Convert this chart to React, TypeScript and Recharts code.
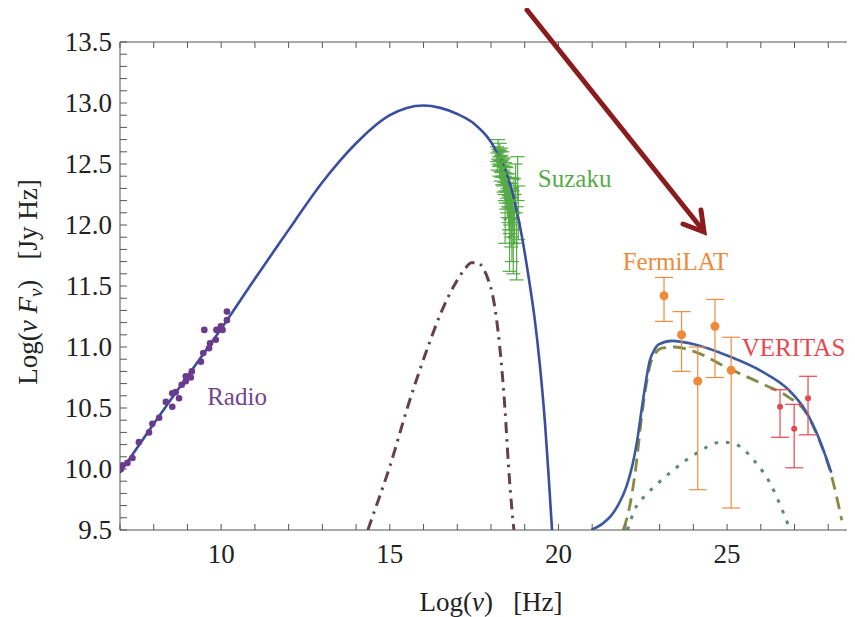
import React from 'react';
import {
  ComposedChart,
  Line,
  Scatter,
  ErrorBar,
  XAxis,
  YAxis,
  CartesianGrid,
  ReferenceDot,
} from 'recharts';

// ---------- axes ----------
const xTicks = [7, 8, 9, 10, 11, 12, 13, 14, 15, 16, 17, 18, 19, 20, 21, 22, 23, 24, 25, 26, 27, 28, 29];
const xLabelTicks = [10, 15, 20, 25];
const yTicks = [
  9.5, 9.6, 9.7, 9.8, 9.9, 10.0, 10.1, 10.2, 10.3, 10.4, 10.5, 10.6, 10.7, 10.8, 10.9,
  11.0, 11.1, 11.2, 11.3, 11.4, 11.5, 11.6, 11.7, 11.8, 11.9, 12.0, 12.1, 12.2, 12.3, 12.4,
  12.5, 12.6, 12.7, 12.8, 12.9, 13.0, 13.1, 13.2, 13.3, 13.4, 13.5,
];
const yLabelTicks = [9.5, 10.0, 10.5, 11.0, 11.5, 12.0, 12.5, 13.0, 13.5];

// ---------- model curves ----------
const totalSync = [
  { x: 7.0, y: 9.97 }, { x: 8.0, y: 10.37 }, { x: 9.0, y: 10.76 }, { x: 10.0, y: 11.15 },
  { x: 11.0, y: 11.56 }, { x: 12.0, y: 11.96 }, { x: 12.5, y: 12.16 }, { x: 13.0, y: 12.35 },
  { x: 13.5, y: 12.52 }, { x: 14.0, y: 12.67 }, { x: 14.5, y: 12.8 }, { x: 15.0, y: 12.9 },
  { x: 15.5, y: 12.96 }, { x: 16.0, y: 12.98 }, { x: 16.5, y: 12.96 }, { x: 17.0, y: 12.91 },
  { x: 17.5, y: 12.83 }, { x: 18.0, y: 12.68 }, { x: 18.3, y: 12.53 }, { x: 18.6, y: 12.3 },
  { x: 18.9, y: 11.93 }, { x: 19.1, y: 11.6 }, { x: 19.3, y: 11.22 }, { x: 19.45, y: 10.85 },
  { x: 19.6, y: 10.38 }, { x: 19.7, y: 9.98 }, { x: 19.81, y: 9.5 },
];
const totalIC = [
  { x: 20.98, y: 9.5 }, { x: 21.3, y: 9.55 }, { x: 21.57, y: 9.62 }, { x: 21.8, y: 9.72 },
  { x: 22.02, y: 9.86 }, { x: 22.2, y: 10.04 }, { x: 22.32, y: 10.21 }, { x: 22.51, y: 10.57 },
  { x: 22.71, y: 10.89 }, { x: 22.85, y: 10.98 }, { x: 22.96, y: 11.02 }, { x: 23.36, y: 11.05 },
  { x: 24.05, y: 11.02 }, { x: 25.0, y: 10.93 }, { x: 26.03, y: 10.8 }, { x: 26.82, y: 10.65 },
  { x: 27.32, y: 10.48 }, { x: 27.71, y: 10.26 }, { x: 28.09, y: 9.97 },
];
const sscComponent = [
  { x: 21.92, y: 9.5 }, { x: 22.07, y: 9.64 }, { x: 22.27, y: 9.96 }, { x: 22.49, y: 10.48 },
  { x: 22.62, y: 10.72 }, { x: 22.76, y: 10.89 }, { x: 23.06, y: 10.99 }, { x: 23.45, y: 11.0 },
  { x: 24.05, y: 10.96 }, { x: 25.0, y: 10.83 }, { x: 26.03, y: 10.7 }, { x: 26.82, y: 10.59 },
  { x: 27.32, y: 10.47 }, { x: 27.71, y: 10.25 }, { x: 28.09, y: 9.95 }, { x: 28.4, y: 9.58 },
];
const ecComponent = [
  { x: 22.05, y: 9.5 }, { x: 22.25, y: 9.66 }, { x: 22.6, y: 9.79 }, { x: 22.9, y: 9.87 },
  { x: 23.4, y: 9.99 }, { x: 24.1, y: 10.13 }, { x: 24.84, y: 10.22 }, { x: 25.18, y: 10.21 },
  { x: 25.83, y: 10.06 }, { x: 26.28, y: 9.88 }, { x: 26.67, y: 9.64 }, { x: 26.87, y: 9.5 },
];
const thermalComponent = [
  { x: 14.35, y: 9.5 }, { x: 14.45, y: 9.58 }, { x: 15.0, y: 10.02 }, { x: 15.53, y: 10.51 },
  { x: 16.13, y: 11.0 }, { x: 16.5, y: 11.27 }, { x: 16.92, y: 11.51 }, { x: 17.2, y: 11.63 },
  { x: 17.42, y: 11.69 }, { x: 17.6, y: 11.69 }, { x: 17.76, y: 11.65 }, { x: 17.92, y: 11.55 },
  { x: 18.06, y: 11.41 }, { x: 18.26, y: 11.0 }, { x: 18.41, y: 10.51 }, { x: 18.52, y: 10.02 },
  { x: 18.65, y: 9.58 }, { x: 18.68, y: 9.5 },
];

// ---------- data ----------
const radio = [
  { x: 7.03, y: 10.0 }, { x: 7.07, y: 10.03 }, { x: 7.22, y: 10.05 }, { x: 7.37, y: 10.09 },
  { x: 7.56, y: 10.22 }, { x: 7.86, y: 10.3 }, { x: 7.96, y: 10.37 }, { x: 8.16, y: 10.42 },
  { x: 8.36, y: 10.55 }, { x: 8.55, y: 10.51 }, { x: 8.55, y: 10.62 }, { x: 8.65, y: 10.63 },
  { x: 8.75, y: 10.58 }, { x: 8.83, y: 10.69 }, { x: 8.95, y: 10.72 }, { x: 8.95, y: 10.76 },
  { x: 9.1, y: 10.75 }, { x: 9.13, y: 10.8 }, { x: 9.4, y: 10.88 }, { x: 9.47, y: 10.95 },
  { x: 9.5, y: 11.14 }, { x: 9.64, y: 10.99 }, { x: 9.67, y: 11.03 }, { x: 9.84, y: 11.06 },
  { x: 9.86, y: 11.14 }, { x: 9.99, y: 11.17 }, { x: 10.04, y: 11.14 }, { x: 10.17, y: 11.22 },
  { x: 10.17, y: 11.29 },
];
const suzaku = [
  { x: 18.18, y: 12.58, e: 0.06 }, { x: 18.19, y: 12.52, e: 0.07 }, { x: 18.21, y: 12.62, e: 0.08 },
  { x: 18.22, y: 12.56, e: 0.06 }, { x: 18.24, y: 12.54, e: 0.06 }, { x: 18.25, y: 12.48, e: 0.08 },
  { x: 18.26, y: 12.6, e: 0.07 }, { x: 18.27, y: 12.55, e: 0.06 }, { x: 18.28, y: 12.5, e: 0.06 },
  { x: 18.29, y: 12.44, e: 0.08 }, { x: 18.3, y: 12.56, e: 0.07 }, { x: 18.31, y: 12.5, e: 0.07 },
  { x: 18.32, y: 12.46, e: 0.07 }, { x: 18.33, y: 12.41, e: 0.08 }, { x: 18.34, y: 12.52, e: 0.08 },
  { x: 18.35, y: 12.47, e: 0.07 }, { x: 18.36, y: 12.4, e: 0.08 }, { x: 18.37, y: 12.36, e: 0.09 },
  { x: 18.38, y: 12.47, e: 0.08 }, { x: 18.39, y: 12.43, e: 0.08 }, { x: 18.4, y: 12.34, e: 0.09 },
  { x: 18.41, y: 12.3, e: 0.1 }, { x: 18.42, y: 12.42, e: 0.09 }, { x: 18.43, y: 12.38, e: 0.1 },
  { x: 18.44, y: 12.28, e: 0.1 }, { x: 18.45, y: 12.24, e: 0.11 }, { x: 18.46, y: 12.37, e: 0.1 },
  { x: 18.47, y: 12.32, e: 0.1 }, { x: 18.48, y: 12.22, e: 0.12 }, { x: 18.49, y: 12.18, e: 0.12 },
  { x: 18.5, y: 12.31, e: 0.11 }, { x: 18.51, y: 12.27, e: 0.12 }, { x: 18.52, y: 12.15, e: 0.13 },
  { x: 18.53, y: 12.1, e: 0.14 }, { x: 18.54, y: 12.26, e: 0.12 }, { x: 18.56, y: 12.08, e: 0.15 },
  { x: 18.57, y: 12.14, e: 0.14 }, { x: 18.58, y: 12.2, e: 0.14 }, { x: 18.6, y: 12.0, e: 0.18 },
  { x: 18.61, y: 12.06, e: 0.16 }, { x: 18.62, y: 11.92, e: 0.22 }, { x: 18.64, y: 12.12, e: 0.16 },
  { x: 18.66, y: 11.85, e: 0.25 }, { x: 18.68, y: 12.2, e: 0.18 }, { x: 18.7, y: 12.05, e: 0.2 },
  { x: 18.73, y: 12.3, e: 0.2 }, { x: 18.76, y: 11.85, e: 0.3 }, { x: 18.79, y: 12.38, e: 0.18 },
  { x: 18.81, y: 12.1, e: 0.22 }, { x: 18.42, y: 12.05, e: 0.2 }, { x: 18.55, y: 11.9, e: 0.28 },
];
const fermi = [
  { x: 23.13, y: 11.42, e: [0.21, 0.15] },
  { x: 23.65, y: 11.1, e: [0.3, 0.19] },
  { x: 24.13, y: 10.72, e: [0.89, 0.28] },
  { x: 24.64, y: 11.17, e: [0.42, 0.22] },
  { x: 25.12, y: 10.81, e: [1.13, 0.27] },
];
const veritas = [
  { x: 26.57, y: 10.51, e: [0.25, 0.14] },
  { x: 26.99, y: 10.33, e: [0.32, 0.2] },
  { x: 27.4, y: 10.58, e: [0.3, 0.18] },
];

// ---------- annotation labels ----------
const labels = [
  { x: 20.48, y: 12.385, text: 'Suzaku', color: '#55ab45' },
  { x: 23.47, y: 11.7, text: 'FermiLAT', color: '#ef8a3a' },
  { x: 26.97, y: 11.0, text: 'VERITAS', color: '#e8464e' },
  { x: 10.47, y: 10.6, text: 'Radio', color: '#74458c' },
];

const FONT = '"Liberation Serif", "Times New Roman", serif';
const AXIS = '#555';
const TXT = '#222';

const BottomTick = (props: any) => {
  const { x, y, payload } = props;
  const v = payload.value;
  const major = xLabelTicks.includes(v);
  return (
    <g>
      <line x1={x} x2={x} y1={y} y2={y - 6} stroke={AXIS} strokeWidth={1} />
      {major && (
        <text x={x} y={y + 33} textAnchor="middle" fontFamily={FONT} fontSize={27} fill={TXT}>
          {v}
        </text>
      )}
    </g>
  );
};

const TopTick = (props: any) => {
  const { x, y } = props;
  return <line x1={x} x2={x} y1={y} y2={y + 6} stroke={AXIS} strokeWidth={1} />;
};

const LeftTick = (props: any) => {
  const { x, y, payload } = props;
  const v = payload.value;
  const major = yLabelTicks.some((t) => Math.abs(t - v) < 1e-6);
  return (
    <g>
      <line x1={x} x2={x + 7} y1={y} y2={y} stroke={AXIS} strokeWidth={1} />
      {major && (
        <text x={x - 8} y={y + 9} textAnchor="end" fontFamily={FONT} fontSize={27} fill={TXT}>
          {v.toFixed(1)}
        </text>
      )}
    </g>
  );
};

const dot = (r: number, color: string) => (p: any) => (
  <circle cx={p.cx} cy={p.cy} r={r} fill={color} stroke="none" />
);

export default function App() {
  return (
    <div style={{ position: 'relative', width: 847, height: 609, overflow: 'hidden', background: '#fff' }}>
      <style>{'html, body { overflow: hidden; }'}</style>
      <ComposedChart
        width={854}
        height={609}
        margin={{ top: 33, right: 0, bottom: 0, left: 0 }}
      >
        <CartesianGrid
          stroke="#8c8c8c"
          strokeWidth={1}
          verticalCoordinatesGenerator={({ xAxis }: any) =>
            xAxis && typeof xAxis.scale === 'function' ? xLabelTicks.map((v) => xAxis.scale(v)) : []
          }
          horizontalCoordinatesGenerator={({ yAxis }: any) =>
            yAxis && typeof yAxis.scale === 'function'
              ? yLabelTicks.slice(1, -1).map((v) => yAxis.scale(v))
              : []
          }
        />
        <XAxis
          dataKey="x"
          type="number"
          domain={[7, 29]}
          allowDataOverflow
          ticks={xTicks}
          interval={0}
          tickSize={0}
          tickMargin={0}
          tickLine={false}
          axisLine={{ stroke: AXIS, strokeWidth: 1 }}
          tick={(p: any) => <BottomTick {...p} />}
          height={87}
        />
        <XAxis
          xAxisId="top"
          orientation="top"
          dataKey="x"
          type="number"
          domain={[7, 29]}
          allowDataOverflow
          ticks={xTicks}
          interval={0}
          tickSize={0}
          tickMargin={0}
          tickLine={false}
          axisLine={{ stroke: AXIS, strokeWidth: 1 }}
          tick={(p: any) => <TopTick {...p} />}
          height={1}
        />
        <YAxis
          dataKey="y"
          type="number"
          domain={[9.5, 13.5]}
          allowDataOverflow
          ticks={yTicks}
          interval={0}
          tickSize={0}
          tickMargin={0}
          tickLine={false}
          axisLine={{ stroke: AXIS, strokeWidth: 1 }}
          tick={(p: any) => <LeftTick {...p} />}
          width={112}
        />

        <Scatter data={suzaku} dataKey="y" isAnimationActive={false} shape={dot(1.8, '#55ab45')}>
          <ErrorBar dataKey="e" direction="y" width={7} stroke="#55ab45" strokeWidth={1.2} isAnimationActive={false} />
        </Scatter>

        <Line data={thermalComponent} dataKey="y" type="monotone" stroke="#65404f" strokeWidth={3}
          strokeDasharray="11 6 2.5 6" dot={false} isAnimationActive={false} />
        <Line data={ecComponent} dataKey="y" type="monotone" stroke="#5f8878" strokeWidth={3}
          strokeDasharray="3.5 8" dot={false} isAnimationActive={false} />
        <Line data={sscComponent} dataKey="y" type="monotone" stroke="#878a45" strokeWidth={2.8}
          strokeDasharray="13 7" dot={false} isAnimationActive={false} />
        <Line data={totalSync} dataKey="y" type="monotone" stroke="#3b4da0" strokeWidth={2.6}
          dot={false} isAnimationActive={false} />
        <Line data={totalIC} dataKey="y" type="monotone" stroke="#3b5aa0" strokeWidth={2.6}
          dot={false} isAnimationActive={false} />

        <Scatter data={radio} dataKey="y" isAnimationActive={false} shape={dot(3.3, '#6a3a8c')} />
        <Scatter data={fermi} dataKey="y" isAnimationActive={false} shape={dot(4.5, '#ee8a3a')}>
          <ErrorBar dataKey="e" direction="y" width={9} stroke="#ef8c42" strokeWidth={1.2} isAnimationActive={false} />
        </Scatter>
        <Scatter data={veritas} dataKey="y" isAnimationActive={false} shape={dot(3, '#e8464e')}>
          <ErrorBar dataKey="e" direction="y" width={9} stroke="#e8464e" strokeWidth={1.2} isAnimationActive={false} />
        </Scatter>

        {labels.map((l) => (
          <ReferenceDot
            key={l.text}
            x={l.x}
            y={l.y}
            r={0}
            fill="none"
            stroke="none"
            ifOverflow="visible"
            label={{ value: l.text, position: 'center', fill: l.color, fontSize: 25, fontFamily: FONT }}
          />
        ))}
      </ComposedChart>

      <svg
        width={847}
        height={609}
        style={{ position: 'absolute', left: 0, top: 0, pointerEvents: 'none' }}
      >
        <line x1={519} y1={2} x2={694} y2={221} stroke="#8b1c1e" strokeWidth={5} strokeLinecap="round" />
        <polyline
          points="675,216 696,224 693,202"
          fill="none"
          stroke="#8b1c1e"
          strokeWidth={5}
          strokeLinejoin="miter"
          strokeLinecap="round"
        />
        <text x={483} y={603} textAnchor="middle" fontFamily={FONT} fontSize={27} fill={TXT}>
          Log(<tspan fontStyle="italic">ν</tspan>)
          {'\u00A0\u00A0\u00A0'}[Hz]
        </text>
        <text
          x={29}
          y={274}
          transform="rotate(-90, 29, 274)"
          textAnchor="middle"
          fontFamily={FONT}
          fontSize={27}
          fill={TXT}
        >
          Log(<tspan fontStyle="italic">ν</tspan>{'\u00A0'}<tspan fontStyle="italic">F</tspan>
          <tspan fontStyle="italic" fontSize={19} dy={5}>ν</tspan>
          <tspan dy={-5}>){'\u00A0\u00A0\u00A0'}[Jy Hz]</tspan>
        </text>
      </svg>
    </div>
  );
}
